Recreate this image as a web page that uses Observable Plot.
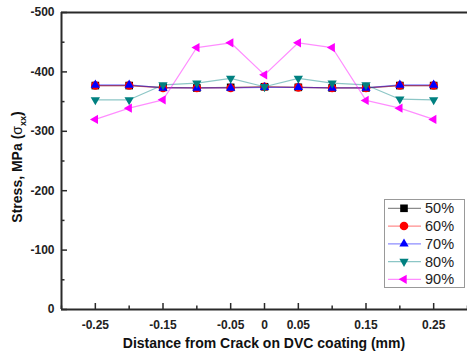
<!DOCTYPE html>
<html><head><meta charset="utf-8">
<script src="https://cdn.jsdelivr.net/npm/d3@7"></script>
<script src="https://cdn.jsdelivr.net/npm/@observablehq/plot@0.6"></script>
<style>body{margin:0;background:#fff;} #chart{position:relative;width:467px;height:351px;overflow:hidden;}</style>
</head><body><div id="chart"></div><script>
const distance = [-0.25,-0.2,-0.15,-0.1,-0.05,0,0.05,0.1,0.15,0.2,0.25];
const s50 = [-377,-377,-374,-373,-374,-375,-374,-373,-373,-377,-377];
const s60 = [-377,-377,-373,-373,-373,-375,-374,-373,-373,-377,-377];
const s70 = [-378,-378,-373,-373,-373,-374,-374,-373,-373,-378,-378];
const s80 = [-353,-353,-378,-381,-389,-375,-389,-381,-378,-354,-353];
const s90 = [-320,-339,-353,-441,-449,-395,-449,-441,-352,-339,-320];
const seriesNames = ["50%","60%","70%","80%","90%"];
const seriesValues = [s50,s60,s70,s80,s90];
const colors = ["#000000","#ff0000","#0000ff","#008080","#ff00ff"];
const xTickLabels = [-0.25,-0.15,-0.05,0,0.05,0.15,0.25];
const xTicksAll = [-0.3,-0.25,-0.2,-0.15,-0.1,-0.05,0,0.05,0.1,0.15,0.2,0.25,0.3];
const xMajor = [-0.25,-0.15,-0.05,0.05,0.15,0.25];
const yTickLabels = [0,-100,-200,-300,-400,-500];
const yMinor = [-50,-150,-250,-350,-450];

function tri(angle){
  return {draw(ctx, size){
    const r = Math.sqrt(size/Math.PI)*1.25;
    for(let i=0;i<3;i++){
      const a = angle + i*2*Math.PI/3;
      const x = r*Math.sin(a), y = -r*Math.cos(a);
      if(i===0) ctx.moveTo(x,y); else ctx.lineTo(x,y);
    }
    ctx.closePath();
  }};
}
const symbols = ["square","circle",tri(0),tri(Math.PI),tri(-Math.PI/2)];

const rows = [];
seriesNames.forEach((s,i)=>distance.forEach((d,j)=>rows.push({series:s, idx:i, x:d, y:seriesValues[i][j]})));

const W=467,H=351,mL=61,mR=0,mT=12,mB=42;
const pw=W-mL-mR, ph=H-mT-mB;
const frameColor="#2a2a2a";

const marks = [];
seriesNames.forEach((s,i)=>{
  const data = rows.filter(r=>r.idx===i);
  marks.push(Plot.line(data,{x:"x",y:"y",stroke:colors[i],strokeOpacity:0.45,strokeWidth:1.2}));
});
seriesNames.forEach((s,i)=>{
  const data = rows.filter(r=>r.idx===i);
  marks.push(Plot.dot(data,{x:"x",y:"y",symbol:()=>symbols[i],fill:colors[i],stroke:"none",r:4.3}));
});
marks.push(
  Plot.ruleY([-500],{stroke:frameColor,strokeWidth:2}),
  Plot.ruleY([0],{stroke:frameColor,strokeWidth:2}),
  Plot.ruleX([-0.3],{stroke:frameColor,strokeWidth:2}),
  Plot.tickY(yTickLabels,{y:d=>d,insetRight:pw-6,stroke:frameColor,strokeWidth:1.5}),
  Plot.tickY(yMinor,{y:d=>d,insetRight:pw-3.5,stroke:frameColor,strokeWidth:1.5}),
  Plot.tickX(xMajor.concat([0]),{x:d=>d,insetTop:ph-6,stroke:frameColor,strokeWidth:1.5}),
  Plot.tickX(xTicksAll.filter(d=>!xMajor.includes(d)&&d!==0),{x:d=>d,insetTop:ph-3.5,stroke:frameColor,strokeWidth:1.5}),
  Plot.axisX({ticks:xTickLabels,tickSize:0,tickPadding:11,tickFormat:d=>String(d),label:null}),
  Plot.axisY({ticks:yTickLabels,tickSize:0,tickPadding:7,tickFormat:d=>String(d),label:null})
);

const svg = Plot.plot({
  width:W,height:H,marginLeft:mL,marginRight:mR,marginTop:mT,marginBottom:mB,
  x:{domain:[-0.3,0.3]},
  y:{domain:[0,-500]},
  style:{fontFamily:"'Liberation Sans', Arial, sans-serif",fontSize:"12px",fontWeight:"bold",color:"#222",background:"#fff",overflow:"visible"},
  marks
});
document.getElementById("chart").appendChild(svg);

const s = d3.select(svg);
// axis titles
s.append("text").attr("x",264).attr("y",348).attr("text-anchor","middle")
  .style("font","bold 14px 'Liberation Sans', Arial, sans-serif").attr("fill","#111")
  .text("Distance from Crack on DVC coating (mm)");
const yt = s.append("text").attr("transform","translate(22,167) rotate(-90)").attr("text-anchor","middle")
  .style("font","bold 14px 'Liberation Sans', Arial, sans-serif").attr("fill","#111");
yt.append("tspan").text("Stress, MPa (");
yt.append("tspan").style("font-weight","normal").text("σ");
yt.append("tspan").attr("dy",4).style("font-size","9px").text("xx");
yt.append("tspan").attr("dy",-4).text(")");

// legend
const lg = s.append("g");
lg.append("rect").attr("x",384.5).attr("y",199.5).attr("width",80).attr("height",88)
  .attr("fill","#fff").attr("stroke","#999").attr("stroke-width",1);
const lx0=388, lx1=421, mx=404, tx=425;
seriesNames.forEach((name,i)=>{
  const yy = 208.3 + i*17.75;
  lg.append("line").attr("x1",lx0).attr("x2",lx1).attr("y1",yy).attr("y2",yy)
    .attr("stroke",colors[i]).attr("stroke-opacity",0.45).attr("stroke-width",1.2);
  const sym = typeof symbols[i]==="string" ? (symbols[i]==="square"?d3.symbolSquare:d3.symbolCircle) : symbols[i];
  lg.append("path").attr("transform",`translate(${mx},${yy})`)
    .attr("d",d3.symbol(sym, Math.PI*4.3*4.3)()).attr("fill",colors[i]);
  lg.append("text").attr("x",tx).attr("y",yy+5).attr("text-anchor","start")
    .style("font","normal 14.5px 'Liberation Sans', Arial, sans-serif")
    .attr("fill","#222").text(name);
});
</script></body></html>
